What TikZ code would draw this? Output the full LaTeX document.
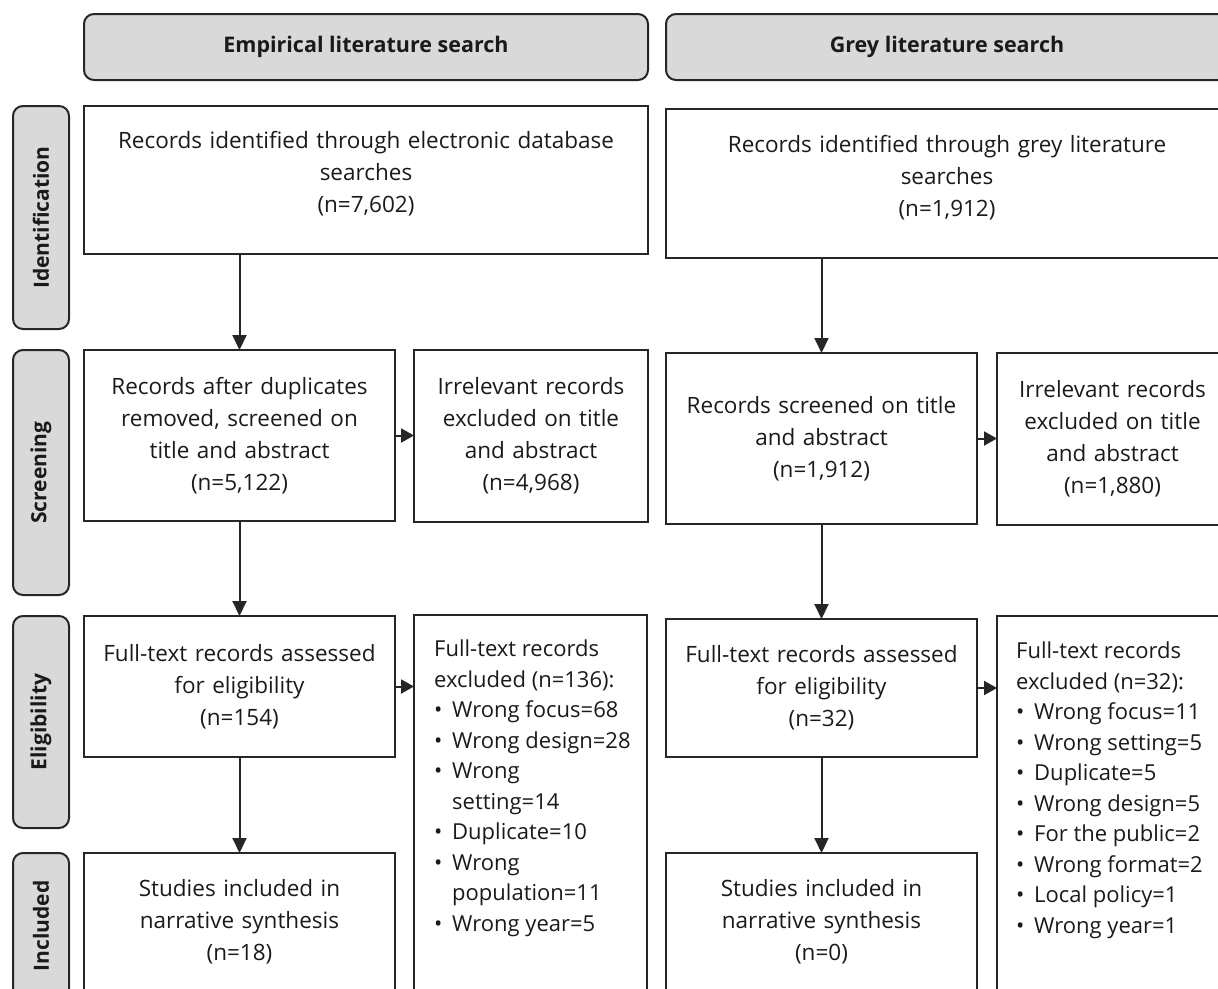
\documentclass[tikz,border=0pt]{standalone}
\usepackage{fontspec}
\setmainfont{Open Sans}
\definecolor{edgegray}{RGB}{38, 38, 38}
\definecolor{phasegray}{RGB}{217, 217, 217}
\definecolor{inkblack}{RGB}{26, 26, 26}
\usetikzlibrary{arrows.meta, positioning}

\newcommand{\bul}[1]{\makebox[18pt][l]{\textbullet}#1}
\newcommand{\cont}[1]{\hspace*{18pt}#1}

\begin{document}
\begin{tikzpicture}[x=1pt, y=-1pt, >={Triangle[length=15pt, width=14pt]},
  flowbox/.style={rectangle, draw=edgegray, line width=2pt, inner sep=0pt, outer sep=0pt, anchor=north west, align=center, text=inkblack, font=\fontsize{22.5}{32}\selectfont},
  headbox/.style={rectangle, rounded corners=10pt, draw=edgegray, fill=phasegray, line width=2pt, inner sep=0pt, outer sep=0pt, text=inkblack, font=\bfseries\fontsize{21.5}{26}\selectfont},
  phasebox/.style={headbox, rotate=90, minimum height=56pt, font=\bfseries\fontsize{21}{26}\selectfont},
  listtext/.style={anchor=north west, align=left, inner sep=0pt, text=inkblack, font=\fontsize{22}{30.5}\selectfont},
  flowarrow/.style={->, line width=2pt, draw=edgegray},
  sidearrow/.style={-{Triangle[length=13pt, width=14pt]}, line width=2pt, draw=edgegray}]
  \useasboundingbox (0,0) rectangle (1218,988);
  \clip (0,0) rectangle (1218,988);

  % column headers and phase labels
  \node (emphead) [headbox, minimum width=564pt, minimum height=66pt] at (366,47) {Empirical literature search};
  \node (greyhead) [headbox, minimum width=562pt, minimum height=66pt] at (947,47) {Grey literature search};
  \node (identlab) [phasebox, minimum width=223pt] at (41,217.5) {Identification};
  \node (screenlab) [phasebox, minimum width=245pt] at (41,472.5) {Screening};
  \node (eliglab) [phasebox, minimum width=212pt] at (41,722) {Eligibility};
  \node (incllab) [phasebox, minimum width=146pt] at (41,926) {Included};

  % empirical literature column
  \node (empident) [flowbox, minimum width=564pt, minimum height=148pt, text width=550pt, text depth=81pt] at (84,106) {Records identified through electronic database\\searches\\(n=7,602)};
  \node (empscreen) [flowbox, minimum width=311pt, minimum height=171pt, text width=305pt] at (84,350) {Records after duplicates\\removed, screened on\\title and abstract\\(n=5,122)};
  \node (empirrel) [flowbox, minimum width=234pt, minimum height=172pt, text width=228pt] at (414,350) {Irrelevant records\\excluded on title\\and abstract\\(n=4,968)};
  \node (empelig) [flowbox, minimum width=311pt, minimum height=141pt, text width=305pt] at (84,616) {Full-text records assessed\\for eligibility\\(n=154)};
  \node (empfull) [flowbox, minimum width=233pt, minimum height=420pt] at (414,615) {};
  \node (emplist) [listtext] at ([xshift=20pt, yshift=-25pt]empfull.north west) {Full-text records\\excluded (n=136):\\\bul{Wrong focus=68}\\\bul{Wrong design=28}\\\bul{Wrong}\\\cont{setting=14}\\\bul{Duplicate=10}\\\bul{Wrong}\\\cont{population=11}\\\bul{Wrong year=5}};
  \node (empincl) [flowbox, minimum width=311pt, minimum height=138pt, text width=305pt] at (84,853) {Studies included in\\narrative synthesis\\(n=18)};

  % grey literature column
  \node (greyident) [flowbox, minimum width=562pt, minimum height=149pt, text width=550pt, text depth=79pt] at (666,109) {Records identified through grey literature\\searches\\(n=1,912)};
  \node (greyscreen) [flowbox, minimum width=311pt, minimum height=171pt, text width=305pt] at (666,353) {Records screened on title\\and abstract\\(n=1,912)};
  \node (greyirrel) [flowbox, minimum width=231pt, minimum height=172pt, text width=225pt] at (997,353) {Irrelevant records\\excluded on title\\and abstract\\(n=1,880)};
  \node (greyelig) [flowbox, minimum width=311pt, minimum height=138pt, text width=305pt] at (666,619) {Full-text records assessed\\for eligibility\\(n=32)};
  \node (greyfull) [flowbox, minimum width=231pt, minimum height=420pt] at (997,616) {};
  \node (greylist) [listtext] at ([xshift=19pt, yshift=-26pt]greyfull.north west) {Full-text records\\excluded (n=32):\\\bul{Wrong focus=11}\\\bul{Wrong setting=5}\\\bul{Duplicate=5}\\\bul{Wrong design=5}\\\bul{For the public=2}\\\bul{Wrong format=2}\\\bul{Local policy=1}\\\bul{Wrong year=1}};
  \node (greyincl) [flowbox, minimum width=311pt, minimum height=138pt, text width=305pt] at (666,853) {Studies included in\\narrative synthesis\\(n=0)};

  \draw[flowarrow] (empident.south -| empscreen.north) -- (empscreen.north);
  \draw[flowarrow] (empscreen) -- (empelig);
  \draw[flowarrow] (empelig) -- (empincl);
  \draw[sidearrow] (empscreen.east) -- (empscreen.east -| empirrel.west);
  \draw[sidearrow] (empelig.east) -- (empelig.east -| empfull.west);

  \draw[flowarrow] (greyident.south -| greyscreen.north) -- (greyscreen.north);
  \draw[flowarrow] (greyscreen) -- (greyelig);
  \draw[flowarrow] (greyelig) -- (greyincl);
  \draw[sidearrow] (greyscreen.east) -- (greyscreen.east -| greyirrel.west);
  \draw[sidearrow] (greyelig.east) -- (greyelig.east -| greyfull.west);
\end{tikzpicture}
\end{document}
